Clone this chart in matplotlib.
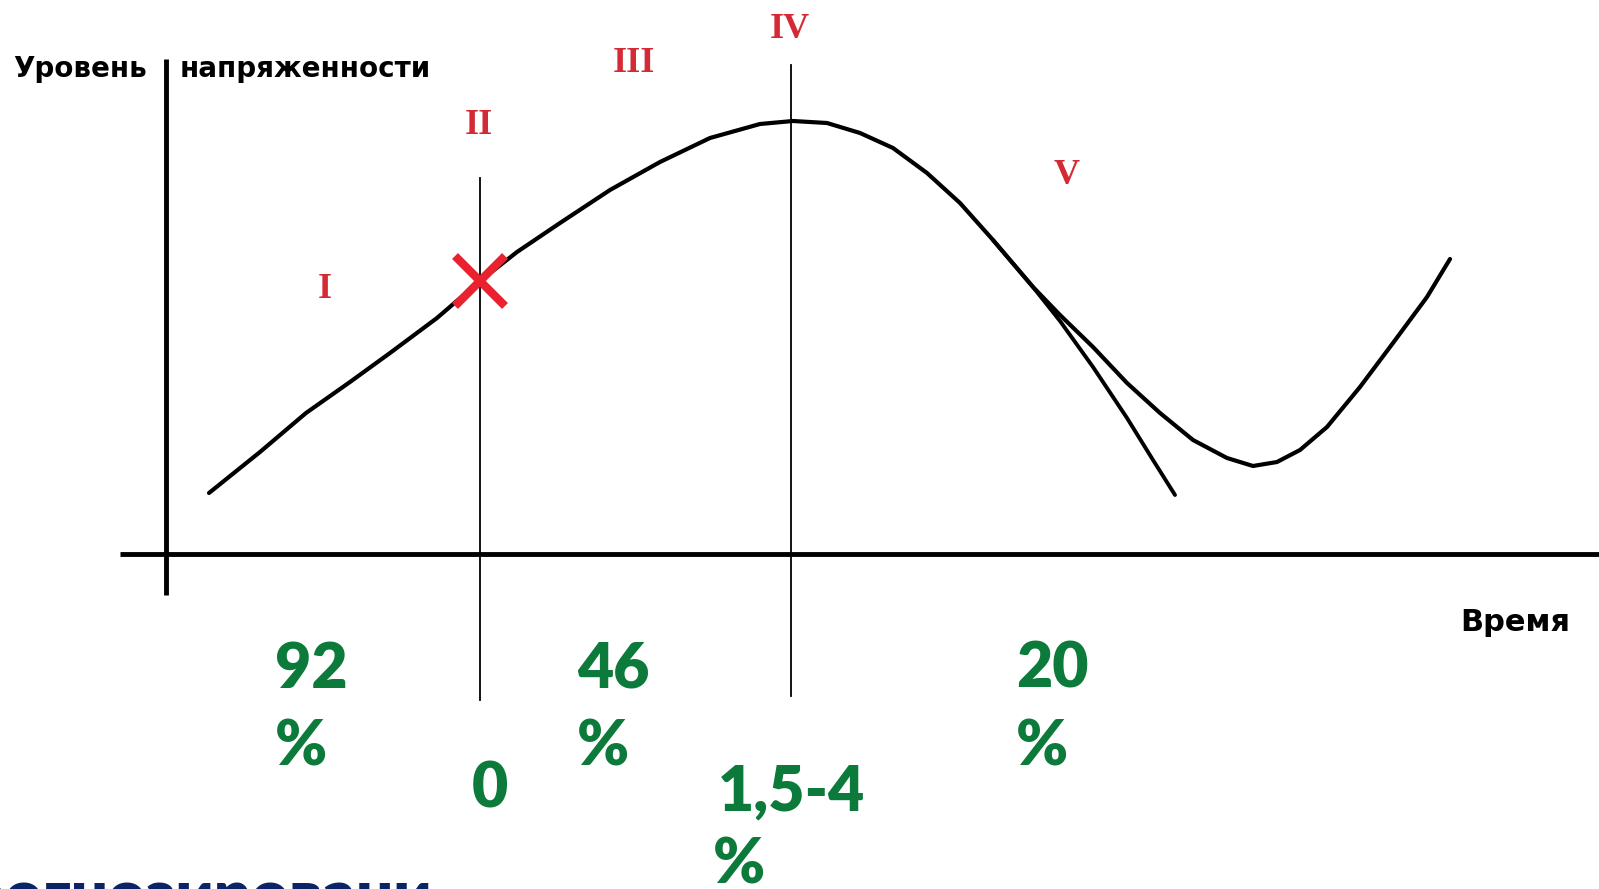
import matplotlib.pyplot as plt

# curve of tension level over time (schematic units, origin at axes cross)
time = [0.43, 0.94, 1.40, 1.84, 2.24, 2.71, 3.14, 3.51, 3.94, 4.44, 4.94, 5.44, 5.94,
        6.27, 6.61, 6.94, 7.27, 7.61, 7.94, 8.27, 8.67, 8.94, 9.27, 9.61, 9.94,
        10.27, 10.61, 10.87, 11.11, 11.34, 11.61, 11.94, 12.27, 12.61, 12.84]
level = [0.61, 1.02, 1.41, 1.72, 2.01, 2.36, 2.73, 3.02, 3.31, 3.64, 3.92, 4.16, 4.30,
         4.33, 4.31, 4.21, 4.06, 3.81, 3.51, 3.14, 2.67, 2.39, 2.07, 1.71, 1.41,
         1.14, 0.96, 0.88, 0.92, 1.04, 1.27, 1.67, 2.11, 2.57, 2.95]

# straight continuation (falling branch)
branch_t = [8.27, 8.67, 8.94, 9.27, 9.61, 9.87, 10.09]
branch_l = [3.14, 2.67, 2.33, 1.87, 1.36, 0.94, 0.59]

# phase borders
border_t = [3.14, 6.25]
border_top = [3.76, 4.89]
border_bottom = [-1.46, -1.42]

cross_t, cross_l = 3.14, 2.73

roman = ["I", "II", "III", "IV", "V"]
roman_t = [1.59, 3.13, 4.68, 6.24, 9.01]
roman_l = [2.64, 4.29, 4.91, 5.25, 3.79]

pct_top = ["92", "46", "20"]
pct_top_t = [1.09, 4.11, 8.50]
pct_low = ["0", "1,5-4"]
pct_low_t = [3.06, 5.52]

RED = "#d42a35"
GREEN = "#0b7a3a"

fig = plt.figure(figsize=(15.99, 8.89), dpi=100)
ax = fig.add_axes([0, 0, 1, 1])
ax.set_xlim(-1.66, 14.33)
ax.set_ylim(-3.35, 5.54)
ax.set_axis_off()

# axes lines
ax.plot([0, 0], [-0.41, 4.95], color="black", lw=3.5, solid_capstyle="butt")
ax.plot([-0.46, 14.33], [0, 0], color="black", lw=3.5, solid_capstyle="butt")

for t, top, bot in zip(border_t, border_top, border_bottom):
    ax.plot([t, t], [bot, top], color="black", lw=1.3)

ax.plot(time, level, color="black", lw=3, solid_joinstyle="round", solid_capstyle="round")
ax.plot(branch_t, branch_l, color="black", lw=2.8, solid_joinstyle="round",
        solid_capstyle="round")

ax.plot(cross_t, cross_l, marker="x", markersize=36, mew=6, color="#e8232f")

ax.text(-1.53, 4.77, "Уровень", fontsize=20, fontweight="bold", ha="left", va="baseline")
ax.text(0.14, 4.77, "напряженности", fontsize=20, fontweight="bold", ha="left", va="baseline")
ax.text(12.94, -0.77, "Время", fontsize=22, fontweight="bold", ha="left", va="baseline")

for s, t, l in zip(roman, roman_t, roman_l):
    ax.text(t, l, s, fontsize=26, fontweight="bold", family="Liberation Serif",
            color=RED, ha="center", va="center")

for s, t in zip(pct_top, pct_top_t):
    ax.text(t, -1.34, s, fontsize=45, fontweight="heavy", family="Lato", color=GREEN,
            ha="left", va="baseline")
    ax.text(t, -2.11, "%", fontsize=45, fontweight="heavy", family="Lato", color=GREEN,
            ha="left", va="baseline")

ax.text(pct_low_t[0], -2.54, pct_low[0], fontsize=45, fontweight="heavy", family="Lato",
        color=GREEN, ha="left", va="baseline")
ax.text(pct_low_t[1], -2.56, pct_low[1], fontsize=45, fontweight="heavy", family="Lato",
        color=GREEN, ha="left", va="baseline")
ax.text(5.47, -3.29, "%", fontsize=45, fontweight="heavy", family="Lato", color=GREEN,
        ha="left", va="baseline")

ax.text(-2.35, -3.62, "прогнозировани", fontsize=47, fontweight="heavy", family="Lato",
        color="#0b2466", ha="left", va="baseline")

plt.savefig("out.png", dpi=100)
